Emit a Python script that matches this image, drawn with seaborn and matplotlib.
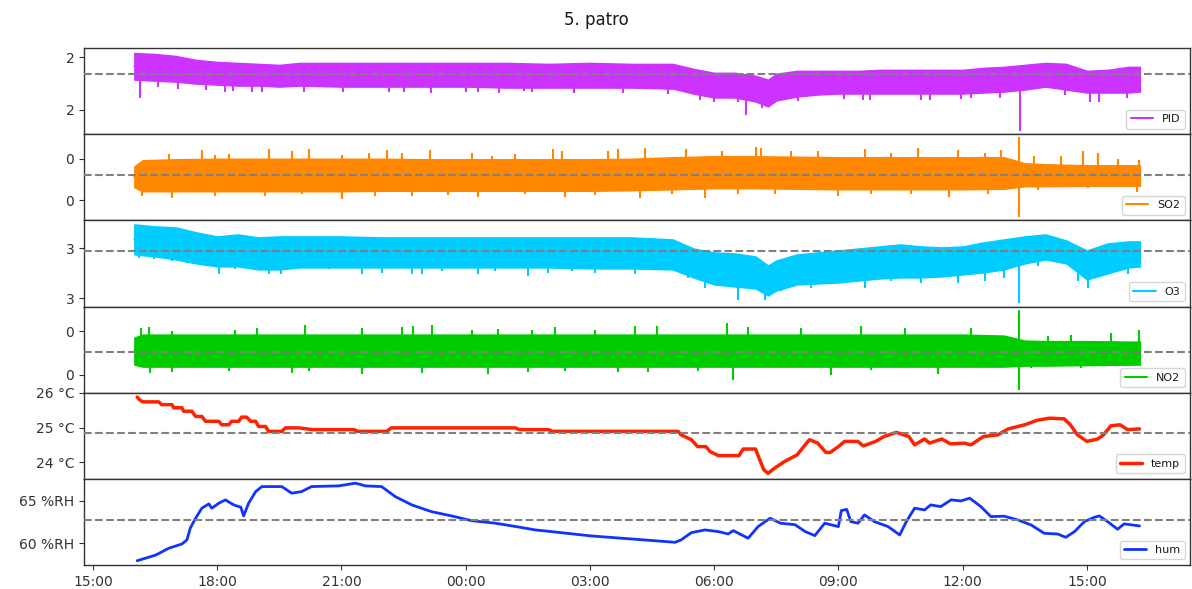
import numpy as np
import pandas as pd
import matplotlib
matplotlib.use("Agg")
import matplotlib.pyplot as plt
import matplotlib.dates as mdates
from matplotlib.ticker import StrMethodFormatter
import seaborn as sns

# ---------------- data (hours after 15:00 of the first day) ----------------
dense_hours = [1.0, 1.5, 2.0, 2.5, 3.0, 3.5, 4.0, 4.5, 5.0, 6.0, 7.0, 8.0, 9.0, 10.0, 11.0,
               12.0, 13.0, 14.0, 14.5, 15.0, 15.5, 16.0, 16.3, 16.5, 17.0, 17.5, 18.0, 18.5,
               19.0, 19.5, 20.0, 20.5, 21.0, 21.5, 22.0, 22.5, 23.0, 23.5, 24.0, 24.5, 25.0, 25.28]
coarse_hours = [1.0, 1.2, 2, 3, 4, 5, 6, 7, 8, 9, 10, 11, 12, 13, 14, 15, 16, 17, 18, 19, 20,
                21, 22, 22.5, 23, 24, 25, 25.28]

# PID: core band of the noisy signal + individual spikes
pid_high = [2.293, 2.283, 2.263, 2.223, 2.203, 2.193, 2.183, 2.173, 2.193,
            2.193, 2.193, 2.193, 2.193, 2.193, 2.183, 2.193, 2.183, 2.183,
            2.133, 2.093, 2.093, 2.063, 2.023, 2.083,
            2.113, 2.113, 2.113, 2.113, 2.123, 2.123, 2.123, 2.123, 2.123, 2.143,
            2.153, 2.173, 2.193, 2.183, 2.113, 2.123, 2.153, 2.153]
pid_low = [2.023, 2.013, 2.003, 1.983, 1.973, 1.963, 1.963, 1.953, 1.963,
           1.953, 1.953, 1.953, 1.953, 1.943, 1.943, 1.943, 1.943, 1.933,
           1.883, 1.843, 1.843, 1.803, 1.753, 1.813,
           1.853, 1.873, 1.883, 1.883, 1.883, 1.883, 1.883, 1.883, 1.883, 1.893,
           1.903, 1.923, 1.953, 1.923, 1.893, 1.893, 1.893, 1.903]
pid_spike_hours = [1.13, 1.57, 2.05, 2.72, 3.2, 3.38, 3.84, 4.08, 5.09, 6.05, 7.14, 7.5, 8.17,
                   9.02, 9.3, 9.81, 10.4, 10.59, 11.62, 12.8, 13.89, 14.66, 14.99, 15.58,
                   15.77, 16.16, 17.02, 18.13, 18.6, 18.76, 20.0, 20.2, 20.95, 21.2, 21.9,
                   22.38, 23.46, 24.07, 24.3, 24.96]
pid_spike_values = [1.843, 1.95, 1.93, 1.92, 1.903, 1.91, 1.903, 1.90, 1.903, 1.90, 1.90,
                    1.903, 1.89, 1.90, 1.903, 1.89, 1.913, 1.90, 1.89, 1.89, 1.88, 1.813,
                    1.80, 1.793, 1.663, 1.74, 1.81, 1.83, 1.823, 1.82, 1.82, 1.813, 1.83,
                    1.843, 1.84, 1.506, 1.87, 1.793, 1.793, 1.84]
pid_mean = 2.083

# SO2
so2_high = [0.373, 0.433, 0.443, 0.448, 0.448, 0.448, 0.448, 0.448, 0.443, 0.443, 0.443,
            0.443, 0.443, 0.448, 0.463, 0.473, 0.473, 0.468, 0.463, 0.463, 0.463, 0.463,
            0.463, 0.403, 0.393, 0.383, 0.383, 0.383]
so2_low = [0.163, 0.123, 0.123, 0.123, 0.123, 0.123, 0.123, 0.128, 0.128, 0.128, 0.128,
           0.128, 0.128, 0.133, 0.143, 0.153, 0.153, 0.148, 0.143, 0.143, 0.143, 0.143,
           0.148, 0.173, 0.173, 0.178, 0.178, 0.178]
so2_spike_hours = [1.83, 2.64, 2.96, 3.28, 4.24, 4.81, 5.21, 6.01, 6.66, 7.10, 7.46, 8.14,
                   9.15, 9.63, 10.19, 11.12, 11.32, 12.44, 12.68, 13.33, 14.33, 15.18, 16.02,
                   16.14, 16.86, 17.51, 18.63, 19.27, 19.92, 20.88, 21.53, 21.93, 22.37,
                   22.73, 23.37, 23.9, 24.26, 24.74, 25.26,
                   1.19, 1.91, 2.96, 4.16, 5.05, 6.01, 6.82, 7.70, 8.58, 9.31, 10.43, 11.40,
                   12.12, 13.21, 13.97, 14.77, 15.58, 16.46, 17.99, 18.79, 19.76, 20.68,
                   21.61, 22.37, 22.81, 24.02, 25.22]
so2_spike_values = [0.493, 0.533, 0.486, 0.493, 0.543, 0.526, 0.543, 0.486, 0.51, 0.533,
                    0.51, 0.533, 0.51, 0.476, 0.493, 0.543, 0.526, 0.526, 0.543, 0.56, 0.543,
                    0.526, 0.566, 0.553, 0.526, 0.526, 0.543, 0.51, 0.56, 0.533, 0.51, 0.533,
                    0.66, 0.476, 0.476, 0.526, 0.51, 0.443, 0.433,
                    0.076, 0.06, 0.076, 0.076, 0.093, 0.043, 0.076, 0.076, 0.086, 0.066,
                    0.093, 0.066, 0.086, 0.06, 0.093, 0.06, 0.093, 0.093, 0.076, 0.093, 0.10,
                    0.066, 0.10, -0.134, 0.133, 0.16, 0.12]
so2_mean = 0.283

# O3
o3_high = [3.54, 3.52, 3.51, 3.46, 3.42, 3.44, 3.41, 3.42, 3.42,
           3.42, 3.41, 3.41, 3.41, 3.41, 3.41, 3.41, 3.41, 3.39,
           3.30, 3.26, 3.25, 3.22, 3.13, 3.18,
           3.24, 3.26, 3.28, 3.30, 3.32, 3.34, 3.32, 3.31, 3.32, 3.36, 3.39, 3.42,
           3.44, 3.38, 3.28, 3.35, 3.37, 3.37]
o3_low = [3.24, 3.22, 3.19, 3.15, 3.12, 3.12, 3.09, 3.09, 3.11,
          3.11, 3.11, 3.11, 3.11, 3.11, 3.11, 3.10, 3.10, 3.09,
          3.01, 2.94, 2.92, 2.90, 2.83, 2.88,
          2.94, 2.95, 2.96, 2.98, 3.00, 3.01, 3.01, 3.02, 3.04, 3.06, 3.09, 3.15,
          3.19, 3.15, 2.99, 3.05, 3.11, 3.12]
o3_spike_hours = [1.11, 1.47, 1.91, 2.27, 3.04, 3.44, 4.24, 4.53, 5.05, 5.69, 6.49, 6.98,
                  7.70, 7.94, 8.42, 9.31, 9.71, 10.51, 11.0, 11.56, 12.12, 13.09, 13.41,
                  14.37, 14.77, 15.58, 16.22, 16.62, 17.35, 17.83, 18.63, 19.27, 20.0,
                  20.88, 21.53, 22.01, 22.37, 22.81, 23.78, 24.02, 24.98]
o3_spike_values = [3.207, 3.19, 3.173, 3.157, 3.047, 3.09, 3.04, 3.04, 3.107, 3.09, 3.04,
                   3.057, 3.047, 3.04, 3.073, 3.047, 3.073, 3.023, 3.057, 3.073, 3.057,
                   3.047, 3.107, 3.007, 2.907, 2.79, 2.79, 2.873, 2.907, 2.957, 2.907,
                   2.973, 2.957, 2.957, 2.973, 3.007, 2.757, 3.123, 2.973, 2.907, 3.04]
o3_mean = 3.27

# NO2
no2_high = [0.387, 0.417] + [0.417] * 20 + [0.407, 0.357, 0.352, 0.352, 0.347, 0.347]
no2_low = [0.117, 0.097] + [0.097] * 20 + [0.097, 0.107, 0.107, 0.112, 0.117, 0.117]
no2_spike_hours = [1.15, 1.35, 1.91, 3.44, 3.96, 5.13, 6.49, 7.46, 7.74, 8.18, 9.15, 9.79,
                   10.59, 11.16, 12.12, 13.09, 13.61, 15.3, 15.82, 17.1, 18.55, 19.6, 21.2,
                   22.37, 23.05, 23.61, 24.58, 25.26,
                   1.39, 1.91, 3.28, 4.81, 5.21, 6.49, 7.94, 9.55, 10.51, 11.40, 12.68,
                   13.41, 14.62, 15.46, 17.83, 18.79, 20.4, 22.37, 22.65, 23.86, 25.14]
no2_spike_values = [0.484, 0.49, 0.45, 0.467, 0.484, 0.51, 0.484, 0.49, 0.50, 0.51, 0.467,
                    0.477, 0.467, 0.49, 0.467, 0.50, 0.50, 0.534, 0.49, 0.484, 0.50, 0.484,
                    0.484, 0.667, 0.40, 0.417, 0.434, 0.467,
                    0.034, 0.044, 0.05, 0.034, 0.057, 0.024, 0.034, 0.024, 0.044, 0.05,
                    0.044, 0.044, 0.05, -0.033, 0.017, 0.06, 0.024, -0.133, 0.084, 0.084,
                    0.10]
no2_mean = 0.24

# temperature (°C)
temp_hours = [1.07, 1.12, 1.2, 1.59, 1.66, 1.91, 1.95, 2.15, 2.19, 2.39, 2.48, 2.63, 2.72,
              3.04, 3.11, 3.28, 3.35, 3.52, 3.59, 3.71, 3.81, 3.93, 4.0, 4.17, 4.24, 4.56,
              4.65, 4.97, 5.3, 6.3, 6.4, 7.1, 7.2, 10.2, 10.3, 11.0, 11.1, 14.13, 14.2,
              14.45, 14.6, 14.8, 14.9, 15.1, 15.6, 15.7, 16.0, 16.06, 16.2, 16.3, 16.46,
              16.7, 17.0, 17.3, 17.5, 17.7, 17.8, 18.0, 18.15, 18.47, 18.6, 18.9, 19.1,
              19.4, 19.7, 19.84, 20.08, 20.2, 20.5, 20.7, 21.05, 21.2, 21.5, 21.85, 22.1,
              22.5, 22.8, 23.1, 23.45, 23.6, 23.77, 24.0, 24.26, 24.4, 24.58, 24.8,
              24.98, 25.27]
temp_values = [25.88, 25.81, 25.74, 25.74, 25.66, 25.66, 25.57, 25.57, 25.47, 25.47, 25.32,
               25.32, 25.18, 25.18, 25.08, 25.08, 25.18, 25.18, 25.30, 25.30, 25.18, 25.18,
               25.03, 25.03, 24.89, 24.89, 24.99, 24.99, 24.94, 24.94, 24.89, 24.89, 24.99,
               24.99, 24.94, 24.94, 24.89, 24.89, 24.79, 24.65, 24.45, 24.45, 24.31, 24.19,
               24.19, 24.38, 24.38, 24.19, 23.78, 23.68, 23.83, 24.02, 24.21, 24.65, 24.55,
               24.28, 24.28, 24.45, 24.60, 24.60, 24.47, 24.60, 24.74, 24.86, 24.74, 24.50,
               24.67, 24.55, 24.67, 24.53, 24.55, 24.50, 24.74, 24.79, 24.96, 25.08, 25.21,
               25.27, 25.25, 25.08, 24.79, 24.60, 24.67, 24.79, 25.05, 25.08, 24.94, 24.96]
temp_mean = 24.84

# humidity (%RH)
hum_hours = [1.07, 1.52, 1.83, 2.15, 2.27, 2.35, 2.48, 2.63, 2.8, 2.87, 3.04, 3.2, 3.4, 3.57,
             3.64, 3.76, 3.93, 4.08, 4.56, 4.80, 5.04, 5.28, 5.93, 6.34, 6.58, 6.97, 7.3,
             7.7, 8.17, 8.66, 9.14, 9.72, 10.27, 10.68, 11.07, 12.03, 13.09, 14.06, 14.2,
             14.45, 14.78, 15.1, 15.34, 15.46, 15.82, 16.06, 16.35, 16.6, 16.95, 17.2,
             17.43, 17.67, 18.0, 18.07, 18.2, 18.3, 18.47, 18.63, 18.87, 19.2, 19.48,
             19.64, 19.84, 20.08, 20.23, 20.47, 20.72, 20.96, 21.17, 21.44, 21.68, 22.0,
             22.33, 22.65, 22.97, 23.29, 23.49, 23.7, 23.94, 24.18, 24.3, 24.5, 24.74,
             24.9, 25.27]
hum_values = [57.95, 58.62, 59.42, 59.92, 60.40, 61.78, 62.96, 64.14, 64.65, 64.14, 64.73,
              65.12, 64.53, 64.26, 63.23, 64.73, 66.10, 66.69, 66.69, 65.91, 66.10, 66.69,
              66.77, 67.09, 66.77, 66.69, 65.51, 64.53, 63.74, 63.23, 62.67, 62.37, 61.93,
              61.58, 61.38, 60.87, 60.48, 60.12, 60.40, 61.26, 61.58, 61.38, 61.10, 61.50,
              60.60, 61.97, 62.96, 62.37, 62.20, 61.38, 60.91, 62.37, 61.97, 63.86, 64.00,
              62.56, 62.37, 63.35, 62.56, 61.97, 60.99, 62.56, 64.14, 63.94, 64.53, 64.33,
              65.12, 65.00, 65.32, 64.33, 63.15, 63.20, 62.76, 62.17, 61.18, 61.10, 60.71,
              61.38, 62.56, 63.07, 63.23, 62.56, 61.66, 62.29, 62.05]
hum_mean = 62.76

series_names = ["PID", "SO2", "O3", "NO2", "temp", "hum"]
series_colors = ["#cc33ff", "#ff8800", "#00ccff", "#00cc00", "#ff2200", "#1133ff"]

# ---------------- helpers ----------------
T0 = pd.Timestamp("2023-06-01 15:00")


def to_time(hours):
    return T0 + pd.to_timedelta(np.asarray(hours, dtype=float), unit="h")


def noisy_band(ax, hours, low, high, sp_h, sp_v, color, label):
    t = to_time(hours)
    low = np.asarray(low, dtype=float)
    high = np.asarray(high, dtype=float)
    df = pd.DataFrame({"time": np.concatenate([t.values, t.values]),
                       "value": np.concatenate([low, high])})
    sns.lineplot(data=df, x="time", y="value", estimator="mean",
                 errorbar=lambda v: (v.min(), v.max()), color=color, lw=1.5,
                 err_kws={"alpha": 1.0, "linewidth": 1.0}, ax=ax, label=label, legend=False)
    # spikes start inside the band and reach the read extreme value
    base = np.interp(np.asarray(sp_h, dtype=float), np.asarray(hours, dtype=float),
                     (low + high) / 2)
    ax.vlines(to_time(sp_h), base, sp_v, color=color, lw=1.5)


# ---------------- figure ----------------
sns.set_style("ticks", {"axes.edgecolor": "0.2", "xtick.color": "0.2", "ytick.color": "0.2",
                        "text.color": "0.1", "axes.labelcolor": "0.1"})
plt.rcParams["font.family"] = ["DejaVu Sans"]
plt.rcParams["axes.linewidth"] = 1.0

fig, axes = plt.subplots(6, 1, sharex=True, figsize=(11.92, 5.89), dpi=100,
                         gridspec_kw={"hspace": 0})
fig.subplots_adjust(left=0.0705, right=0.9985, top=0.9185, bottom=0.0407)

noisy_band(axes[0], dense_hours, pid_low, pid_high, pid_spike_hours, pid_spike_values,
           series_colors[0], series_names[0])
noisy_band(axes[1], coarse_hours, so2_low, so2_high, so2_spike_hours, so2_spike_values,
           series_colors[1], series_names[1])
noisy_band(axes[2], dense_hours, o3_low, o3_high, o3_spike_hours, o3_spike_values,
           series_colors[2], series_names[2])
noisy_band(axes[3], coarse_hours, no2_low, no2_high, no2_spike_hours, no2_spike_values,
           series_colors[3], series_names[3])
sns.lineplot(x=to_time(temp_hours), y=temp_values, color=series_colors[4], lw=2.5,
             ax=axes[4], label=series_names[4], legend=False)
sns.lineplot(x=to_time(hum_hours), y=hum_values, color=series_colors[5], lw=2.0,
             ax=axes[5], label=series_names[5], legend=False)

means = [pid_mean, so2_mean, o3_mean, no2_mean, temp_mean, hum_mean]
ylims = [(1.473, 2.343), (-0.167, 0.693), (2.72, 3.58), (-0.163, 0.697), (23.52, 26.005),
         (57.44, 67.60)]
yticks = [[2.25, 1.72], [0.45, 0.036], [3.30, 2.80], [0.45, 0.017], [24, 25, 26], [60, 65]]
yfmts = ["{x:.0f}", "{x:.0f}", "{x:.0f}", "{x:.0f}", "{x:.0f} °C", "{x:.0f} %RH"]

for i, ax in enumerate(axes):
    ax.axhline(means[i], color="gray", ls="--", lw=1.5, zorder=5)
    ax.set_ylim(*ylims[i])
    ax.set_yticks(yticks[i])
    ax.yaxis.set_major_formatter(StrMethodFormatter(yfmts[i]))
    ax.tick_params(axis="y", labelsize=10, length=3.5)
    ax.set_ylabel("")
    ax.set_xlabel("")
    ax.legend(loc="lower right", fontsize=8)
    for s in ["top", "right", "left", "bottom"]:
        ax.spines[s].set_visible(True)
    if i < 5:
        ax.tick_params(axis="x", bottom=False)

axes[-1].xaxis.set_major_locator(mdates.HourLocator(byhour=range(0, 24, 3)))
axes[-1].xaxis.set_major_formatter(mdates.DateFormatter("%H:%M"))
axes[-1].tick_params(axis="x", labelsize=10, length=3.5)

fig.suptitle("5. patro", fontsize=12, y=0.966, va="center")
fig.savefig("out.png", dpi=100)
